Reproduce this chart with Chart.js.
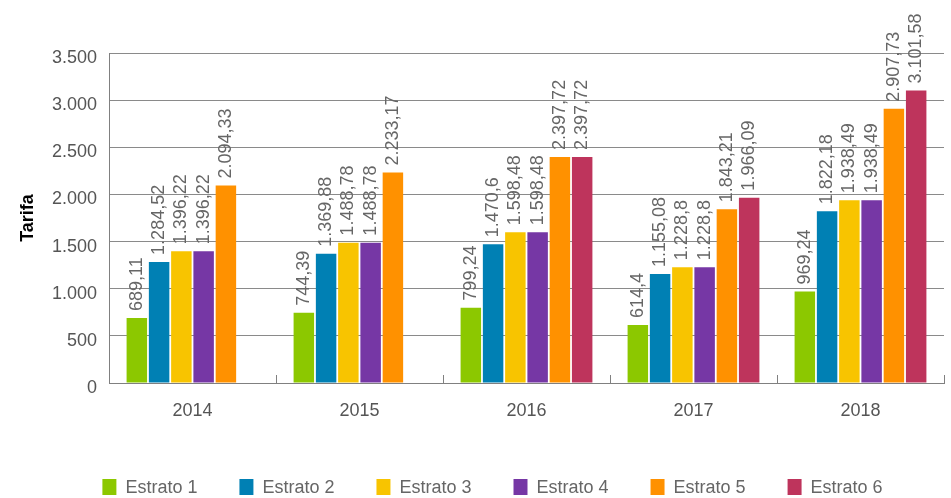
<!DOCTYPE html>
<html>
<head>
<meta charset="utf-8">
<script src="https://cdn.jsdelivr.net/npm/chart.js@4"></script>
<style>
  body { margin: 0; background: #fff; }
  #wrap { width: 951px; height: 498px; position: relative; }
</style>
</head>
<body>
<div id="wrap"><canvas id="chart"></canvas></div>
<script>
// years on the x axis
const years = ['2014', '2015', '2016', '2017', '2018'];

// tarifa per estrato (null = no bar)
const estrato1 = [689.11, 744.39, 799.24, 614.4, 969.24];
const estrato2 = [1284.52, 1369.88, 1470.6, 1155.08, 1822.18];
const estrato3 = [1396.22, 1488.78, 1598.48, 1228.8, 1938.49];
const estrato4 = [1396.22, 1488.78, 1598.48, 1228.8, 1938.49];
const estrato5 = [2094.33, 2233.17, 2397.72, 1843.21, 2907.73];
const estrato6 = [null, null, 2397.72, 1966.09, 3101.58];

const seriesNames = ['Estrato 1', 'Estrato 2', 'Estrato 3', 'Estrato 4', 'Estrato 5', 'Estrato 6'];
const seriesColors = ['#8CC800', '#0080B4', '#F8C400', '#7637A5', '#FF9100', '#BE345C'];
const allSeries = [estrato1, estrato2, estrato3, estrato4, estrato5, estrato6];

const FONT = 'Arial, "Liberation Sans", sans-serif';

// 1234.5 -> "1.234,5"
function fmt(v) {
  let s = String(Math.round(v * 100) / 100);
  let [intPart, dec] = s.split('.');
  intPart = intPart.replace(/\B(?=(\d{3})+(?!\d))/g, '.');
  return dec ? intPart + ',' + dec : intPart;
}

// vertical value labels above each bar
const barLabels = {
  id: 'barLabels',
  afterDatasetsDraw(chart) {
    const ctx = chart.ctx;
    ctx.save();
    ctx.font = '18px ' + FONT;
    ctx.fillStyle = '#666';
    ctx.textAlign = 'left';
    ctx.textBaseline = 'middle';
    chart.data.datasets.forEach((ds, i) => {
      chart.getDatasetMeta(i).data.forEach((bar, j) => {
        const v = ds.data[j];
        if (v == null) return;
        ctx.save();
        ctx.translate(bar.x, bar.y - 7);
        ctx.rotate(-Math.PI / 2);
        ctx.fillText(fmt(v), 0, 0);
        ctx.restore();
      });
    });
    ctx.restore();
  }
};

// small inward tick marks between the year groups
const groupTicks = {
  id: 'groupTicks',
  afterDraw(chart) {
    const x = chart.scales.x;
    const ctx = chart.ctx;
    const step = x.width / years.length;
    ctx.save();
    ctx.strokeStyle = '#808080';
    ctx.lineWidth = 1;
    for (let i = 0; i <= years.length; i++) {
      const px = Math.round(x.left + i * step) + 0.5;
      ctx.beginPath();
      ctx.moveTo(px, x.top);
      ctx.lineTo(px, x.top - 8);
      ctx.stroke();
    }
    ctx.restore();
  }
};

// fixed legend height, nudged a bit right/up like the original
const legendHeight = {
  id: 'legendHeight',
  beforeInit(chart) {
    const fit = chart.legend.fit;
    chart.legend.fit = function () {
      fit.bind(chart.legend)();
      this.height = 58;
    };
  },
  afterLayout(chart) {
    const lg = chart.legend;
    lg.left += 12;
    lg.right += 12;
    lg.top -= 3;
    lg.bottom -= 3;
  }
};

new Chart(document.getElementById('chart'), {
  type: 'bar',
  data: {
    labels: years,
    datasets: allSeries.map((d, i) => ({
      label: seriesNames[i],
      data: d,
      backgroundColor: seriesColors[i],
      borderWidth: 0,
      barPercentage: 0.92,
      categoryPercentage: 0.8
    }))
  },
  options: {
    responsive: true,
    maintainAspectRatio: false,
    animation: false,
    layout: { padding: { top: 53, left: 17, right: 7, bottom: 0 } },
    plugins: {
      tooltip: { enabled: false },
      legend: {
        position: 'bottom',
        labels: {
          boxWidth: 14,
          boxHeight: 18,
          padding: 42,
          color: '#666',
          font: { size: 18, family: FONT }
        }
      }
    },
    scales: {
      x: {
        grid: { display: false, drawTicks: false },
        border: { display: true, color: '#808080', width: 1 },
        ticks: { color: '#555', padding: 17, font: { size: 18, family: FONT } },
        afterFit(scale) { scale.height = 57; }
      },
      y: {
        min: 0,
        max: 3500,
        grid: { color: '#8a8a8a', drawTicks: false },
        border: { display: true, color: '#808080', width: 1 },
        ticks: {
          stepSize: 500,
          color: '#555',
          padding: 12,
          labelOffset: 5,
          font: { size: 18, family: FONT },
          callback: v => fmt(v)
        },
        title: {
          display: true,
          text: 'Tarifa',
          color: '#000',
          font: { size: 18, weight: 'bold', family: FONT },
          padding: { top: 0, bottom: 8 }
        },
        afterFit(scale) { scale.width = 92; }
      }
    }
  },
  plugins: [barLabels, groupTicks, legendHeight]
});
</script>
</body>
</html>
